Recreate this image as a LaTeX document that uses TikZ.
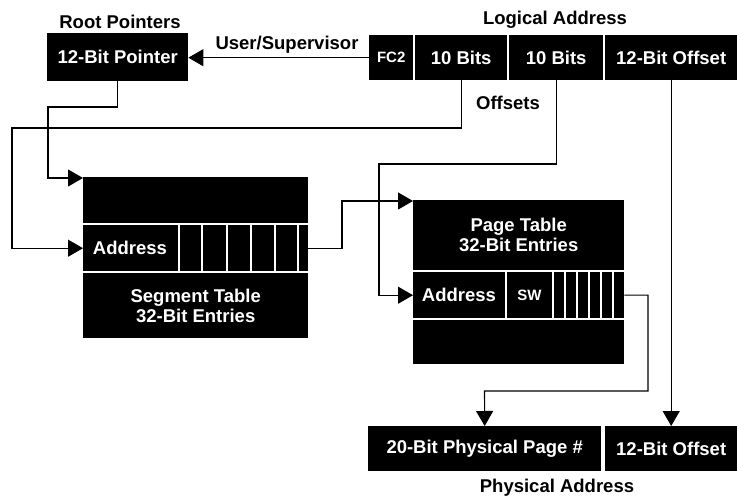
\documentclass[tikz,border=0pt]{standalone}
\usepackage{fontspec}
\setmainfont{Liberation Sans}
\usetikzlibrary{arrows.meta,calc}
\begin{document}
\begin{tikzpicture}[x=1pt,y=1pt,
 blk/.style={fill=black,text=white,inner sep=0pt,anchor=north west,font=\bfseries\fontsize{18.5}{20}\selectfont,align=center},
 lbl/.style={inner sep=0pt,font=\bfseries\fontsize{18.5}{20}\selectfont},
 small/.style={font=\bfseries\fontsize{15}{18}\selectfont},
 arr/.style={-{Triangle[length=15pt,width=17pt]},line width=1.1pt},
 sep/.style={white,line width=2pt}]
\useasboundingbox[fill=white] (0,0) rectangle (737,-497);
% root pointer
\node[blk,minimum width=141pt,minimum height=48pt] (ptr) at (47,-33) {12-Bit Pointer};
\node[lbl] (rootlbl) at (120,-22) {Root Pointers};
% logical address
\node[blk,small,minimum width=44pt,minimum height=45pt] (fc2) at (369,-35) {FC2};
\node[blk,minimum width=92pt,minimum height=45pt] (bitsa) at (415,-35) {10 Bits};
\node[blk,minimum width=94pt,minimum height=45pt] (bitsb) at (509,-35) {10 Bits};
\node[blk,minimum width=132pt,minimum height=45pt] (loff) at (605,-35) {12-Bit Offset};
\node[lbl] (loglbl) at (555,-20) {Logical Address};
\node[lbl] (uslbl) at (287,-45) {User/Supervisor};
\node[lbl] (offlbl) at (508,-103) {Offsets};
% segment table
\node[blk,minimum width=225pt,minimum height=46pt] (segtop) at (83,-177) {};
\node[blk,minimum width=225pt,minimum height=46pt] (segrow) at (83,-225) {};
\node[blk,minimum width=225pt,minimum height=65pt] (segbot) at (83,-273) {Segment Table\\32-Bit Entries};
\node[lbl,text=white] (segaddr) at (130,-248) {Address};
\foreach \x in {178.5,202,227,251,275,298} \draw[sep] (\x,-225) -- (\x,-271);
% page table
\node[blk,minimum width=211pt,minimum height=70pt] (pttop) at (413,-200) {Page Table\\32-Bit Entries};
\node[blk,minimum width=211pt,minimum height=46pt] (ptrow) at (413,-272) {};
\node[blk,minimum width=211pt,minimum height=44pt] (ptbot) at (413,-320) {};
\node[lbl,text=white] (ptaddr) at (459,-295) {Address};
\node[lbl,small,text=white] (ptsw) at (529.5,-295) {SW};
\foreach \x in {506,553,564.5,576.5,589,600.5,612.5} \draw[sep] (\x,-272) -- (\x,-318);
% physical address
\node[blk,minimum width=233pt,minimum height=45pt] (ppage) at (368,-426) {20-Bit Physical Page \#};
\node[blk,minimum width=132pt,minimum height=45pt] (poff) at (605,-426) {12-Bit Offset};
\node[lbl] (physlbl) at (557,-488) {Physical Address};
% bends
\coordinate (k1) at (48,-107);
\coordinate (k2) at (12,-128);
\coordinate (k3) at (342,-201);
\coordinate (k4) at (379,-164);
\coordinate (k5) at (648,-391);
\coordinate (k6) at (484.5,-391);
% connectors
\draw[arr] (fc2.west) -- (fc2.west -| ptr.east);
\draw[arr] (ptr.south) |- (k1) |- ($(segtop.north west)+(0,-1)$);
\draw[arr] (bitsa.south) |- (k2) |- (segrow.west);
\draw[arr] (segrow.east) -| (k3) -- (k3 -| pttop.west);
\draw[arr] (bitsb.south) |- (k4) |- (ptrow.west);
\draw[arr] (ptrow.east) -| (k5) -- (k6) -- (ppage.north);
\draw[arr] (loff.south) -- (poff.north);
\end{tikzpicture}
\end{document}
